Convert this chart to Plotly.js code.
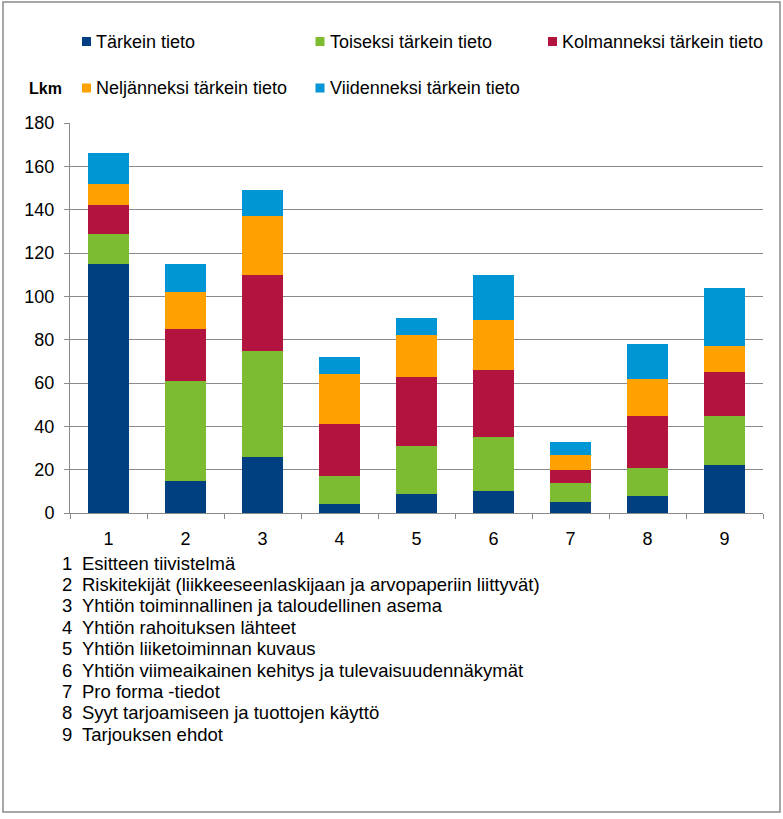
<!DOCTYPE html>
<html>
<head>
<meta charset="utf-8">
<script src="https://cdn.plot.ly/plotly-3.0.1.min.js"></script>
<style>
html,body{margin:0;padding:0;background:#fff;}
#chart{width:783px;height:819px;}
</style>
</head>
<body>
<div id="chart"></div>
<script>
// ---- data ----
var categories = ["1","2","3","4","5","6","7","8","9"];
var seriesNames = ["Tärkein tieto","Toiseksi tärkein tieto","Kolmanneksi tärkein tieto","Neljänneksi tärkein tieto","Viidenneksi tärkein tieto"];
var first  = [115, 15, 26,  4,  9, 10, 5,  8, 22];
var second = [ 14, 46, 49, 13, 22, 25, 9, 13, 23];
var third  = [ 13, 24, 35, 24, 32, 31, 6, 24, 20];
var fourth = [ 10, 17, 27, 23, 19, 23, 7, 17, 12];
var fifth  = [ 14, 13, 12,  8,  8, 21, 6, 16, 27];
var categoryNames = [
  "Esitteen tiivistelmä",
  "Riskitekijät (liikkeeseenlaskijaan ja arvopaperiin liittyvät)",
  "Yhtiön toiminnallinen ja taloudellinen asema",
  "Yhtiön rahoituksen lähteet",
  "Yhtiön liiketoiminnan kuvaus",
  "Yhtiön viimeaikainen kehitys ja tulevaisuudennäkymät",
  "Pro forma -tiedot",
  "Syyt tarjoamiseen ja tuottojen käyttö",
  "Tarjouksen ehdot"
];
var yAxisLabel = "Lkm";

// ---- styling ----
var colors = ["#004080","#7DBB32","#B3143F","#FFA100","#0096D6"];
var FONT = "Liberation Sans, Arial, sans-serif";
var W = 783, H = 819;
var L = 70, R = 20, T = 123, B = 306;
var pw = W - L - R, ph = H - T - B;
function px(x){ return (x - L) / pw; }
function py(y){ return (H - B - y) / ph; }

var values = [first, second, third, fourth, fifth];
var traces = values.map(function(v, i){
  return {
    type: "bar",
    name: seriesNames[i],
    x: categories,
    y: v,
    marker: {color: colors[i], line: {width: 0}},
    hoverinfo: "x+y+name"
  };
});

var shapes = [];
var annotations = [];

// outer border
shapes.push({type:"rect", xref:"paper", yref:"paper",
  x0: px(3), x1: px(780), y0: py(812), y1: py(2),
  line:{color:"#8a8a8a", width:1.5}, fillcolor:"rgba(0,0,0,0)", layer:"below"});

// custom legend
var legPos = [[82,41.5],[315.5,41.5],[548,41.5],[82,88],[315.5,88]];
seriesNames.forEach(function(n, i){
  var p = legPos[i];
  shapes.push({type:"rect", xref:"paper", yref:"paper",
    x0: px(p[0]), x1: px(p[0]+9), y0: py(p[1]+4.5), y1: py(p[1]-4.5),
    line:{width:0}, fillcolor: colors[i]});
  annotations.push({xref:"paper", yref:"paper", x: px(p[0]+12), y: py(p[1]),
    xanchor:"left", yanchor:"middle", showarrow:false, text: n,
    font:{family:FONT, size:18, color:"#000"}});
});

// Lkm label
annotations.push({xref:"paper", yref:"paper", x: px(27), y: py(88),
  xanchor:"left", yanchor:"middle", showarrow:false, text: "<b>"+yAxisLabel+"</b>",
  font:{family:FONT, size:16, color:"#000"}});

// category explanation list
categoryNames.forEach(function(n, i){
  var yy = 563 + 21.4 * i;
  annotations.push({xref:"paper", yref:"paper", x: px(60), y: py(yy),
    xanchor:"left", yanchor:"middle", showarrow:false, text: categories[i],
    font:{family:FONT, size:18.5, color:"#000"}});
  annotations.push({xref:"paper", yref:"paper", x: px(79.5), y: py(yy),
    xanchor:"left", yanchor:"middle", showarrow:false, text: n,
    font:{family:FONT, size:18.5, color:"#000"}});
});

var layout = {
  width: W, height: H,
  margin: {l: L, r: R, t: T, b: B, pad: 0},
  paper_bgcolor: "#fff",
  plot_bgcolor: "#fff",
  barmode: "stack",
  bargap: 0.48,
  showlegend: false,
  font: {family: FONT, size: 18, color: "#000"},
  xaxis: {
    type: "category",
    showline: true, linecolor: "#8a8a8a", linewidth: 1,
    ticks: "outside", tickson: "boundaries", ticklen: 5, tickcolor: "#8a8a8a",
    showgrid: false, zeroline: false,
    tickfont: {family: FONT, size: 18, color: "#000"},
    ticklabelstandoff: 9
  },
  yaxis: {
    range: [0, 180], dtick: 20, tick0: 0,
    showline: true, linecolor: "#8a8a8a", linewidth: 1,
    ticks: "outside", ticklen: 5, tickcolor: "#8a8a8a",
    showgrid: true, gridcolor: "#8a8a8a", gridwidth: 1,
    zeroline: false,
    tickfont: {family: FONT, size: 18, color: "#000"},
    ticklabelstandoff: 6
  },
  shapes: shapes,
  annotations: annotations
};

Plotly.newPlot("chart", traces, layout, {displayModeBar: false, staticPlot: true});
</script>
</body>
</html>
